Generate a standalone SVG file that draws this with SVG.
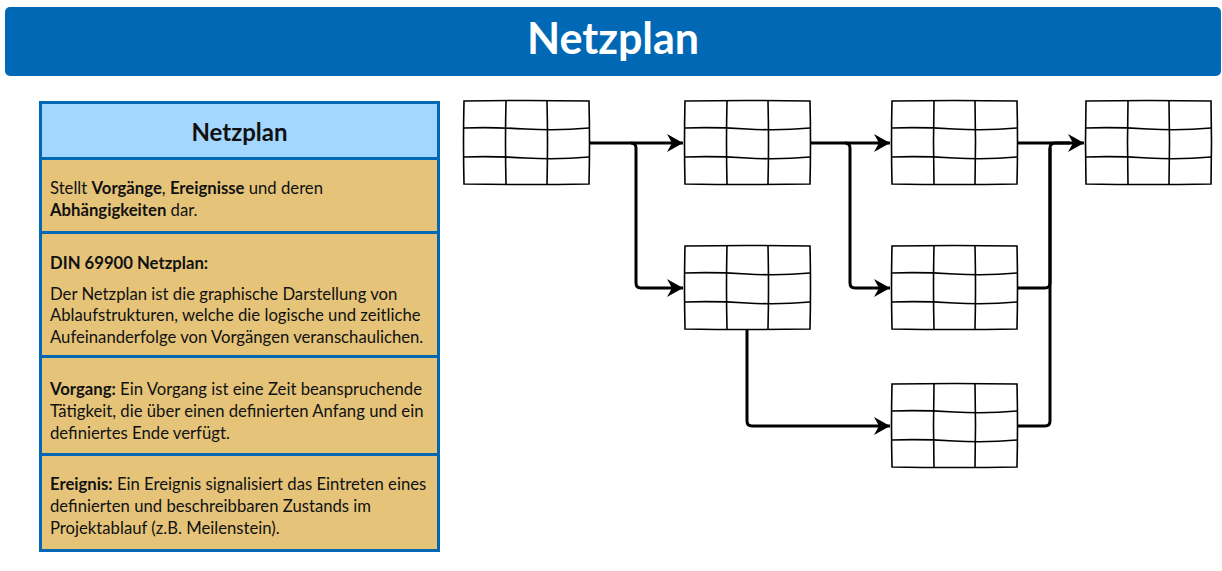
<svg xmlns="http://www.w3.org/2000/svg" xmlns:xlink="http://www.w3.org/1999/xlink" width="1222" height="571" viewBox="0 0 1222 571">
<style>
.title{font-family:Lato,"Liberation Sans",sans-serif;font-weight:bold;font-size:43px;fill:#ffffff}
.ph{font-family:Lato,"Liberation Sans",sans-serif;font-weight:bold;font-size:24px;fill:#111111}
.body{font-family:Lato,"Liberation Sans",sans-serif;font-size:16.7px;fill:#111111}
.b{font-weight:bold}
.hdr{fill:#A3D7FF;stroke:#0068B5;stroke-width:3}
.sec{fill:#E5C47A;stroke:#0068B5;stroke-width:3}
.grid{fill:none;stroke:#000;stroke-width:1.6;stroke-linecap:round}
.gridbg{fill:#ffffff;stroke:none}
.conn{fill:none;stroke:#000;stroke-width:3}
</style>
<defs>
<marker id="arr" markerUnits="userSpaceOnUse" markerWidth="16" markerHeight="18" viewBox="0 0 16 18" refX="16" refY="9" orient="auto">
<path d="M0,0 L16,9 L0,18 L5,9 Z" fill="#000"/>
</marker>
<g id="gridshape">
<rect class="gridbg" x="0" y="0" width="125" height="83"/>
<path class="grid" d="M0,0 Q62,-1 125,0 Q126,41 125,83 Q62,84 0,83 Q-1,41 0,0 Z"/>
<path class="grid" d="M42,0 Q41,41 42,83 M83,0 Q84,41 83,83"/>
<path class="grid" d="M0,27 Q30,26 62,28 T125,27 M0,56 Q31,55 62,57 T125,56"/>
</g>
</defs>

<g id="title">
<rect x="5" y="7" width="1216" height="69" rx="5" fill="#0068B5"/>
<text class="title" x="613" y="54" text-anchor="middle">Netzplan</text>
</g>

<g id="panel">
<rect class="hdr" x="40.5" y="102.5" width="398" height="56"/>
<text class="ph" x="239.5" y="141" text-anchor="middle">Netzplan</text>
<rect class="sec" x="40.5" y="158.5" width="398" height="74"/>
<text class="body" x="50" y="194">Stellt <tspan class="b">Vorgänge</tspan>, <tspan class="b">Ereignisse</tspan> und deren</text>
<text class="body" x="50" y="216"><tspan class="b">Abhängigkeiten</tspan> dar.</text>
<rect class="sec" x="40.5" y="232.5" width="398" height="124"/>
<text class="body b" x="50" y="269">DIN 69900 Netzplan:</text>
<text class="body" x="50" y="300">Der Netzplan ist die graphische Darstellung von</text>
<text class="body" x="50" y="321">Ablaufstrukturen, welche die logische und zeitliche</text>
<text class="body" x="50" y="343">Aufeinanderfolge von Vorgängen veranschaulichen.</text>
<rect class="sec" x="40.5" y="356.5" width="398" height="98"/>
<text class="body" x="50" y="395"><tspan class="b">Vorgang:</tspan> Ein Vorgang ist eine Zeit beanspruchende</text>
<text class="body" x="50" y="417">Tätigkeit, die über einen definierten Anfang und ein</text>
<text class="body" x="50" y="439">definiertes Ende verfügt.</text>
<rect class="sec" x="40.5" y="454.5" width="398" height="96"/>
<text class="body" x="50" y="490"><tspan class="b">Ereignis:</tspan> Ein Ereignis signalisiert das Eintreten eines</text>
<text class="body" x="50" y="512">definierten und beschreibbaren Zustands im</text>
<text class="body" x="50" y="534">Projektablauf (z.B. Meilenstein).</text>
</g>

<g id="connectors">
<path class="conn" d="M588,143 L683,143" marker-end="url(#arr)"/>
<path class="conn" d="M631,143 Q636,143 636,148 L636,283 Q636,288 641,288 L683,288" marker-end="url(#arr)"/>
<path class="conn" d="M810,143 L890,143" marker-end="url(#arr)"/>
<path class="conn" d="M845,143 Q850,143 850,148 L850,283 Q850,288 855,288 L890,288" marker-end="url(#arr)"/>
<path class="conn" d="M1017,143 L1084,143" marker-end="url(#arr)"/>
<path class="conn" d="M1017,288 L1045,288 Q1050,288 1050,283 L1050,148 Q1050,143 1055,143 L1070,143"/>
<path class="conn" d="M747,329 L747,421 Q747,426 752,426 L890,426" marker-end="url(#arr)"/>
<path class="conn" d="M1017,426 L1045,426 Q1050,426 1050,421 L1050,148"/>
</g>

<g id="node1"><use xlink:href="#gridshape" transform="translate(464,101)"/></g>
<g id="node2"><use xlink:href="#gridshape" transform="translate(685,101)"/></g>
<g id="node3"><use xlink:href="#gridshape" transform="translate(892,101)"/></g>
<g id="node4"><use xlink:href="#gridshape" transform="translate(1086,101)"/></g>
<g id="node5"><use xlink:href="#gridshape" transform="translate(685,246)"/></g>
<g id="node6"><use xlink:href="#gridshape" transform="translate(892,246)"/></g>
<g id="node7"><use xlink:href="#gridshape" transform="translate(892,384)"/></g>
</svg>
